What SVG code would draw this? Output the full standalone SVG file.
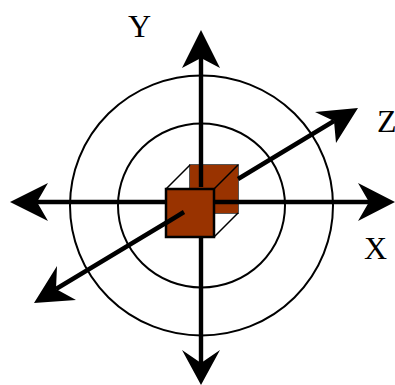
<svg xmlns="http://www.w3.org/2000/svg" width="395" height="385" viewBox="0 0 395 385">
<style>
.ring{fill:none;stroke:#000;stroke-width:2}
.axis{fill:none;stroke:#000;stroke-width:4.4}
.head{fill:#000;stroke:none}
.face2{fill:#993300;stroke:#000;stroke-width:2.5}
.edge{fill:none;stroke:#000;stroke-width:1.5}
.lbl{font-family:"Liberation Serif","Times New Roman",serif;font-size:32px;fill:#000}
</style>
<rect width="395" height="385" fill="#fff"/>
<g id="rings">
<ellipse class="ring" cx="201.5" cy="205.5" rx="131.5" ry="130"/>
<ellipse class="ring" cx="201.5" cy="205.5" rx="83.5" ry="82"/>
</g>
<g id="back-cube">
<rect x="189.5" y="164.5" width="49" height="49" fill="#993300" stroke="#555" stroke-width="1"/>
</g>
<g id="connectors">
<path class="axis" d="M37 202H166M214 202H369"/>
<path class="axis" d="M201 58V187M201 237V363"/>
<path class="axis" d="M238 179L334 121M184 212L56 289"/>
<polygon class="head" points="10,202 48,183 37,202 48,221"/>
<polygon class="head" points="395,202 358,183 369,202 358,221"/>
<polygon class="head" points="201,30 182,68 201,58 220,68"/>
<polygon class="head" points="201,385 182,350 201,363 220,350"/>
<polygon class="head" points="358,108 315,112 334,121 336,143"/>
<polygon class="head" points="34,303 57,266 56,289 76,300"/>
</g>
<g id="cube-edges">
<path class="edge" d="M190 165L166 189M238 165L214 189M238 213L214 237"/>
</g>
<g id="front-cube">
<rect class="face2" x="166" y="189" width="48" height="48"/>
<path d="M184 212L166 223" fill="none" stroke="#000" stroke-width="4.4"/>
</g>
<g id="labels">
<text class="lbl" x="128" y="37">Y</text>
<text class="lbl" x="377" y="132">Z</text>
<text class="lbl" x="364" y="259">X</text>
</g>
</svg>
